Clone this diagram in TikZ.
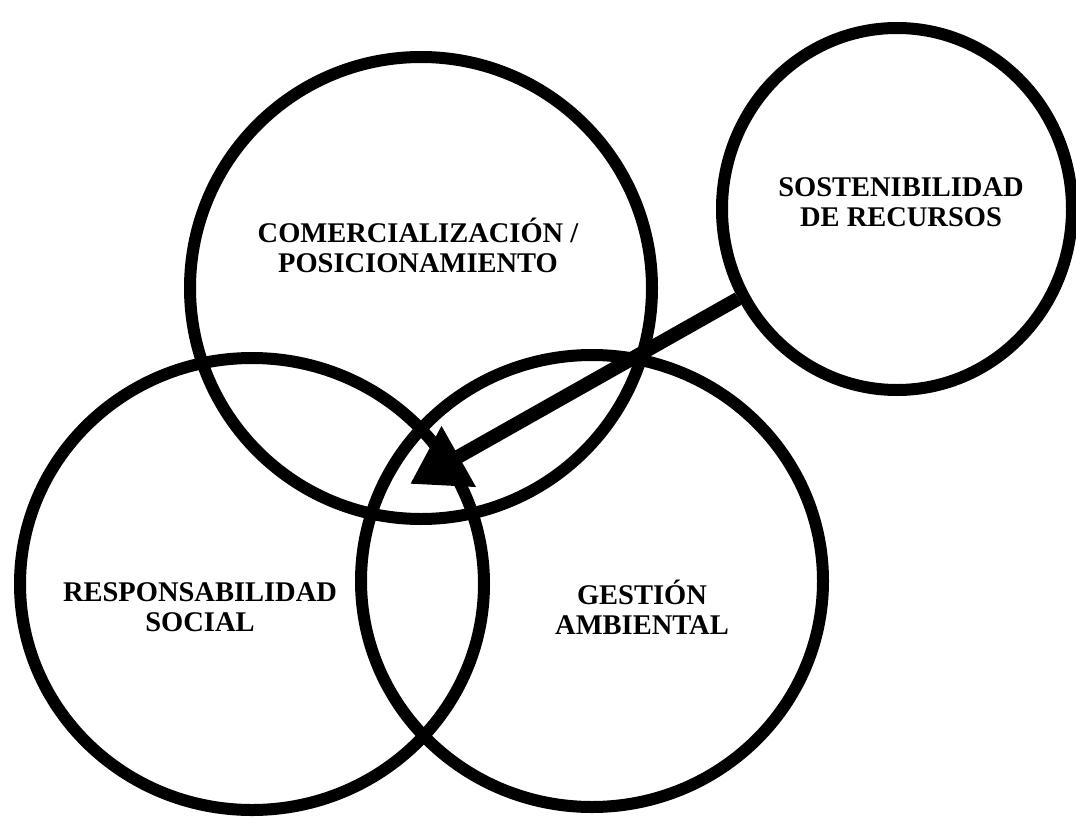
\documentclass[tikz,border=0pt]{standalone}
\usepackage{fontspec}
\setmainfont{Liberation Serif}
\usetikzlibrary{arrows.meta,shapes.geometric}
\tikzset{
  ring/.style 2 args={ellipse, draw=black, line width=12bp, inner sep=0pt, minimum width=#1, minimum height=#2},
  lbl/.style={align=center, inner sep=0pt, font=\fontsize{28.5bp}{30bp}\selectfont\bfseries},
  bigarrow/.style={line width=14bp, -{Triangle[length=56bp, width=66bp]}}
}
\begin{document}
\begin{tikzpicture}[x=1bp, y=-1bp]
\fill[white] (0,0) rectangle (1076,818);
\clip (0,0) rectangle (1076,818);
\node[ring={462bp}{462bp}] (com) at (421,288) {};
\node[ring={350bp}{362bp}] (sos) at (897,209) {};
\node[ring={464bp}{452bp}] (res) at (252,584) {};
\node[ring={462bp}{452bp}] (ges) at (592,581) {};
\coordinate (tip) at (410,484);
\draw[bigarrow] (sos) -- (tip);
\node[lbl] (tcom) at (418,245) {COMERCIALIZACIÓN /\\POSICIONAMIENTO};
\node[lbl] (tsos) at (901,202) {SOSTENIBILIDAD\\DE RECURSOS};
\node[lbl] (tres) at (200,607) {RESPONSABILIDAD\\SOCIAL};
\node[lbl] (tges) at (642,607) {GESTIÓN\\AMBIENTAL};
\end{tikzpicture}
\end{document}
